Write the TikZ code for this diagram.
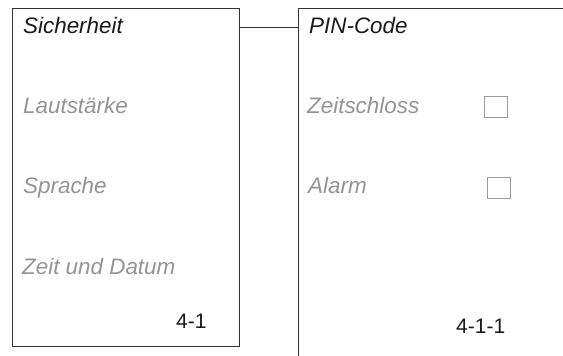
\documentclass[tikz,border=0pt]{standalone}
\usepackage{fontspec}
\setmainfont{Liberation Sans}
\usepackage{tikz}

\begin{document}
\begin{tikzpicture}[x=1pt, y=-1pt,
  frame/.style={draw=black!80, line width=0.9pt, inner sep=0pt, anchor=north west},
  title/.style={anchor=base west, inner sep=0pt, black!90, font=\fontsize{22.4}{26}\selectfont\itshape},
  entry/.style={anchor=base west, inner sep=0pt, black!42, font=\fontsize{22.4}{26}\selectfont\itshape},
  code/.style={anchor=base west, inner sep=0pt, black!90, font=\fontsize{21}{25}\selectfont},
  tick/.style={draw=black!40, line width=0.8pt, minimum width=23pt, minimum height=21pt, inner sep=0pt}]
  \useasboundingbox (0,0) rectangle (563,356);

  % Menu 4-1
  \node[frame, minimum width=227pt, minimum height=338pt] (menu) at (12,8) {};
  \node[title] (sich) at (23,33) {Sicherheit};
  \node[entry] (laut) at (23,113) {Lautstärke};
  \node[entry] (spra) at (23,193) {Sprache};
  \node[entry] (zeit) at (22,274) {Zeit und Datum};
  \node[code] (n41) at (176,328) {4-1};

  % Menu 4-1-1 (runs off the page)
  \node[frame, minimum width=300pt, minimum height=380pt] (panel) at (298,8) {};
  \node[title] (pin) at (309,33) {PIN-Code};
  \node[entry] (zsch) at (307,113) {Zeitschloss};
  \node[entry] (alarm) at (308,193) {Alarm};
  \node[tick] (box1) at (496,107) {};
  \node[tick] (box2) at (499,188) {};
  \node[code] (n411) at (456,333) {4-1-1};

  % Link
  \draw[black!80, line width=0.9pt] ([yshift=-19pt]menu.north east) -- ([yshift=-19pt]panel.north west);
\end{tikzpicture}
\end{document}
